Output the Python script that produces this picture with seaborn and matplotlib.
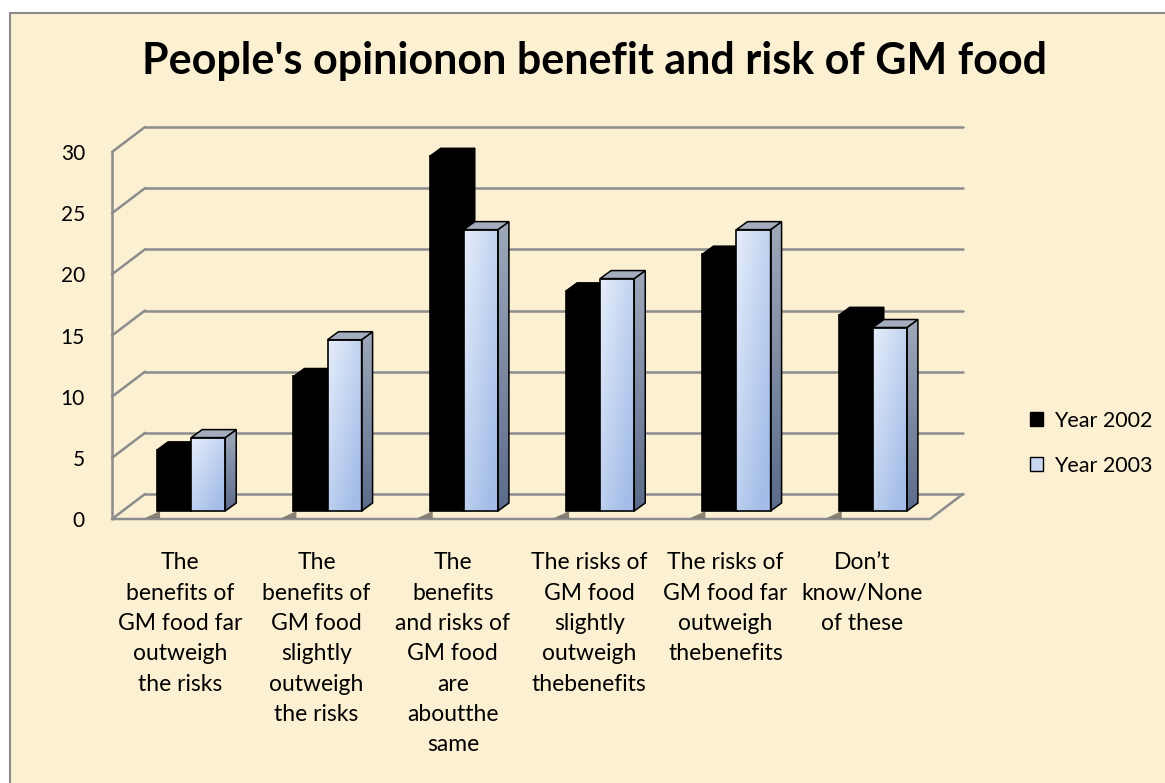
import numpy as np
import pandas as pd
import matplotlib
matplotlib.use("Agg")
import matplotlib.pyplot as plt
import seaborn as sns
from matplotlib.patches import Polygon, Rectangle
from matplotlib.transforms import IdentityTransform, offset_copy
from matplotlib.lines import Line2D

# ---------------- data ----------------
categories = [
    "The\nbenefits of\nGM food far\noutweigh\nthe risks",
    "The\nbenefits of\nGM food\nslightly\noutweigh\nthe risks",
    "The\nbenefits\nand risks of\nGM food\nare\naboutthe\nsame",
    "The risks of\nGM food\nslightly\noutweigh\nthebenefits",
    "The risks of\nGM food far\noutweigh\nthebenefits",
    "Don\u2019t\nknow/None\nof these",
]
years = ["Year 2002", "Year 2003"]
values_2002 = [5, 11, 29, 18, 21, 16]
values_2003 = [6, 14, 23, 19, 23, 15]
y_ticks = [0, 5, 10, 15, 20, 25, 30]
title = "People's opinionon benefit and risk of GM food"

df = pd.DataFrame({
    "category": categories * 2,
    "year": [years[0]] * len(categories) + [years[1]] * len(categories),
    "value": values_2002 + values_2003,
})

# ---------------- style ----------------
sns.set_theme(style="white")
plt.rcParams["font.family"] = ["Lato", "DejaVu Sans"]

W, H = 1165, 783
fig = plt.figure(figsize=(W / 100, H / 100), dpi=100, facecolor="white")
fig.patches.append(Rectangle((10 / W, -0.01), 1.0, 1.01 - 13 / H,
                             transform=fig.transFigure, facecolor="#fcf0d3",
                             edgecolor="#8c8c8c", lw=1.5, zorder=-5))

ax = fig.add_axes([112 / W, 1 - 519 / H, 818 / W, 367 / H])
ax.set_facecolor("none")
ax.set_zorder(1)

BLUE = "#c9d7f1"
sns.barplot(data=df, x="category", y="value", hue="year",
            palette={years[0]: "#000000", years[1]: BLUE},
            width=0.5, saturation=1, errorbar=None, legend=False,
            edgecolor="black", linewidth=1.2, ax=ax, zorder=3)

ax.set_xlim(-0.5, 5.5)
ax.set_ylim(0, 30)
ax.set_yticks(y_ticks)
ax.set_yticklabels([str(v) for v in y_ticks])
ax.tick_params(axis="y", length=0, pad=19.5, labelsize=15, colors="black")
ax.tick_params(axis="x", length=0, pad=24, labelsize=16.5, colors="black")
for t in ax.get_xticklabels():
    t.set_linespacing(1.55)
    t.set_horizontalalignment("center")
ax.set_xlabel("")
ax.set_ylabel("")
for s in ax.spines.values():
    s.set_visible(False)

ID = IdentityTransform()
GRID = "#8c8c8c"
WX, WY = 33, 25      # wall depth (pixels)
BX, BY = 11, 8       # bar offset / bar depth (pixels)


def disp(x, y):
    return ax.transData.transform((x, y))


# back-wall gridlines and left-wall diagonals
for v in y_ticks:
    xl, yv = disp(-0.5, v)
    xr, _ = disp(5.5, v)
    ax.add_line(Line2D([xl + WX, xr + WX], [yv + WY, yv + WY], transform=ID,
                       color=GRID, lw=1.8, zorder=0.5, clip_on=False))
    ax.add_line(Line2D([xl, xl + WX], [yv, yv + WY], transform=ID,
                       color=GRID, lw=1.8, zorder=0.5, clip_on=False))
# front-left edge and floor edges
x0p, y0p = disp(-0.5, 0)
_, y30p = disp(-0.5, 30)
x5p, _ = disp(5.5, 0)
ax.add_line(Line2D([x0p, x0p], [y0p, y30p], transform=ID, color=GRID, lw=1.8,
                   zorder=0.5, clip_on=False))
ax.add_line(Line2D([x0p, x5p, x5p + WX], [y0p, y0p, y0p + WY], transform=ID,
                   color=GRID, lw=1.8, zorder=0.5, clip_on=False))

# ---------------- 3-D bar faces ----------------
bar_trans = offset_copy(ax.transData, fig=fig, x=BX, y=BY, units="dots")

nx, ny = 40, 60
gx = np.linspace(0, 1, nx)[None, :]
gy = np.linspace(0, 1, ny)[:, None]
c_tl = np.array([0.90, 0.93, 0.98])
c_br = np.array([0.64, 0.74, 0.91])
mix = np.clip(0.55 * gx + 0.6 * gy, 0, 1)[..., None]
front_grad = (1 - mix) * c_tl + mix * c_br

side_top = np.array([0.62, 0.66, 0.73])
side_bot = np.array([0.36, 0.42, 0.54])
sm = np.linspace(0, 1, ny)[:, None, None]
side_grad = np.repeat((1 - sm) * side_top + sm * side_bot, 4, axis=1)

for p in list(ax.patches):
    if not isinstance(p, Rectangle):
        continue
    x, w, h = p.get_x(), p.get_width(), p.get_height()
    is_black = p.get_facecolor()[0] < 0.2
    p.set_transform(bar_trans)
    p.set_clip_on(False)
    (px0, py0) = disp(x, 0) + np.array([BX, BY])
    (px1, py1) = disp(x + w, h) + np.array([BX, BY])
    side = [(px1, py0), (px1 + BX, py0 + BY), (px1 + BX, py1 + BY), (px1, py1)]
    top = [(px0, py1), (px0 + BX, py1 + BY), (px1 + BX, py1 + BY), (px1, py1)]
    if is_black:
        p.set_zorder(3)
        for poly in (side, top):
            ax.add_patch(Polygon(poly, closed=True, transform=ID, facecolor="black",
                                 edgecolor="black", lw=1.0, zorder=2.9, clip_on=False))
        ax.add_patch(Polygon([(px0 + 3, py0), (px0 - 12, py0 - 7), (px0 + 3, py0 - 7)],
                             closed=True, transform=ID, facecolor="black",
                             edgecolor="none", alpha=0.45, zorder=2.8, clip_on=False))
    else:
        p.set_facecolor("none")
        p.set_zorder(3.2)
        ax.imshow(front_grad, extent=[px0, px1, py0, py1], transform=ID,
                  aspect="auto", zorder=3.1, interpolation="bilinear")
        sp = Polygon(side, closed=True, transform=ID, facecolor="none",
                     edgecolor="black", lw=1.1, zorder=3.2, clip_on=False)
        ax.add_patch(sp)
        im = ax.imshow(side_grad, extent=[px1, px1 + BX, py0, py1 + BY], transform=ID,
                       aspect="auto", zorder=3.05, interpolation="bilinear")
        im.set_clip_path(sp)
        ax.add_patch(Polygon(top, closed=True, transform=ID, facecolor="#a4adbd",
                             edgecolor="black", lw=1.1, zorder=3.2, clip_on=False))

ax.set_xlim(-0.5, 5.5)
ax.set_ylim(0, 30)

# ---------------- title & legend ----------------
fig.text(595 / W, 1 - 61 / H, title, ha="center", va="center",
         fontsize=31, fontweight="bold", color="black")

handles = [Rectangle((0, 0), 1, 1, facecolor="black", edgecolor="black", lw=1.0),
           Rectangle((0, 0), 1, 1, facecolor=BLUE, edgecolor="black", lw=1.0)]
fig.legend(handles, years, loc="upper left", bbox_to_anchor=(1030 / W, 1 - 411 / H),
           frameon=False, fontsize=15.5, handlelength=0.62, handleheight=0.62,
           handletextpad=0.5, labelspacing=1.15, borderaxespad=0, borderpad=0,
           labelcolor="black")

fig.savefig("out.png", dpi=100, facecolor="white")
